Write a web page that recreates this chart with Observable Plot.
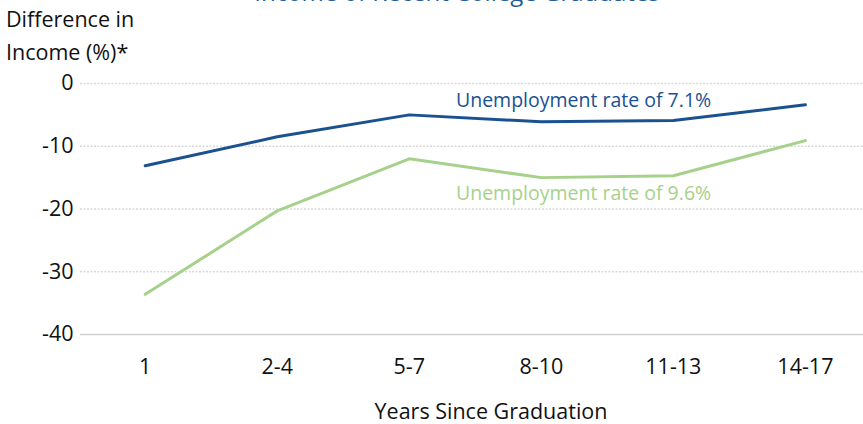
<!DOCTYPE html>
<html>
<head>
<meta charset="utf-8">
<script src="https://cdn.jsdelivr.net/npm/d3@7"></script>
<script src="https://cdn.jsdelivr.net/npm/@observablehq/plot@0.6"></script>
<style>
  html, body { margin: 0; padding: 0; background: #fff; }
  #wrap { position: relative; width: 863px; height: 424px; overflow: hidden; font-family: "Open Sans", sans-serif; }
  #title { position: absolute; left: 0; width: 914px; top: -23px; text-align: center; font-size: 24px; line-height: 30px; color: #1f5c99; white-space: nowrap; }
  #ylab { position: absolute; left: 6px; top: 2px; font-size: 21.5px; line-height: 33px; color: #111; }
  #chart { position: absolute; left: 0; top: 0; }
</style>
</head>
<body>
<div id="wrap">
  <div id="chart"></div>
  <div id="title">Income of Recent College Graduates</div>
  <div id="ylab">Difference in<br>Income (%)*</div>
</div>
<script>
const categories = ["1", "2-4", "5-7", "8-10", "11-13", "14-17"];
const rate71 = [-13.1, -8.5, -5.0, -6.1, -5.9, -3.4];
const rate96 = [-33.6, -20.3, -12.0, -15.0, -14.7, -9.1];
const yTicks = [0, -10, -20, -30, -40];
const seriesNames = ["Unemployment rate of 7.1%", "Unemployment rate of 9.6%"];
const seriesColors = ["#1a5190", "#a6d18b"];
const labelX = [3.32, 3.32];
const labelY = [-2.8, -17.6];

const rows = [];
categories.forEach((c, i) => {
  rows.push({i, series: seriesNames[0], value: rate71[i]});
  rows.push({i, series: seriesNames[1], value: rate96[i]});
});
const labels = seriesNames.map((s, k) => ({series: s, x: labelX[k], y: labelY[k]}));

const plot = Plot.plot({
  width: 863,
  height: 424,
  marginTop: 83,
  marginBottom: 90,
  marginLeft: 80,
  marginRight: 0,
  style: {fontFamily: "'Open Sans', sans-serif", fontSize: "21.5px", color: "#111", background: "transparent"},
  x: {domain: [-0.49, 5.44], label: null},
  y: {domain: [-40, 0], label: null},
  color: {domain: seriesNames, range: seriesColors},
  marks: [
    Plot.ruleY(yTicks.filter(t => t !== -40), {stroke: "#d9d9d9", strokeDasharray: "2,1.5", strokeWidth: 1.5}),
    Plot.ruleY([-40], {stroke: "#d0d0d0", strokeWidth: 1.5}),
    Plot.axisX({ticks: categories.map((c, i) => i), tickFormat: i => categories[i], tickSize: 0, tickPadding: 24, label: null, fontSize: 21.5, fill: "#111"}),
    Plot.axisY({ticks: yTicks, tickFormat: d => String(d), tickSize: 0, tickPadding: 7, label: null, fontSize: 21.5, fill: "#111"}),
    Plot.line(rows, {x: "i", y: "value", z: "series", stroke: "series", strokeWidth: 3}),
    Plot.text(labels, {x: "x", y: "y", text: "series", fill: "series", fontSize: 19.5}),
    Plot.text(["Years Since Graduation"], {frameAnchor: "bottom", dx: 19, dy: 84, fontSize: 21.5, fill: "#111"})
  ]
});
document.getElementById("chart").appendChild(plot);
</script>
</body>
</html>
